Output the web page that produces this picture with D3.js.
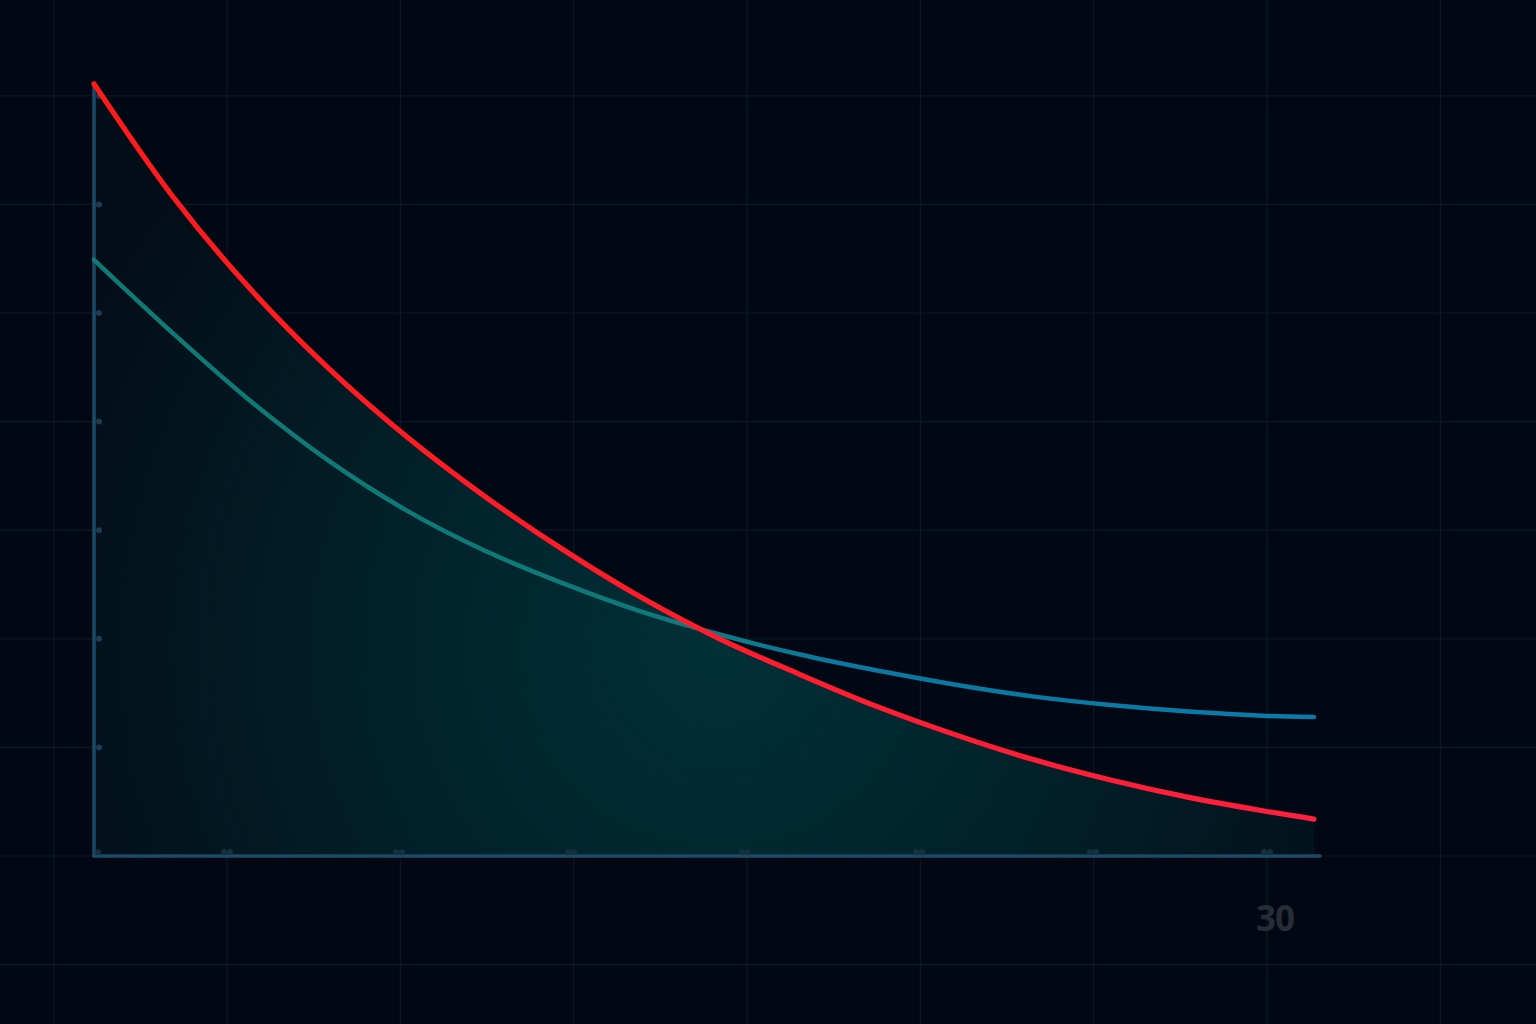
<!DOCTYPE html>
<html>
<head>
<meta charset="utf-8">
<script src="https://cdn.jsdelivr.net/npm/d3@7"></script>
<style>
  html, body { margin: 0; padding: 0; background: #020813; overflow: hidden; }
  svg { display: block; }
</style>
</head>
<body>
<div id="chart"></div>
<script>
// months along x
var months = [0, 2, 4, 6, 8, 10, 12, 14, 16, 18, 20, 22, 24, 26, 28, 30, 31.2];
var redValues = [7.11, 6.08, 5.22, 4.49, 3.86, 3.31, 2.82, 2.38, 2.00, 1.68, 1.38, 1.12, 0.89, 0.70, 0.54, 0.41, 0.34];
var tealValues = [5.49, 4.82, 4.19, 3.64, 3.18, 2.81, 2.51, 2.25, 2.04, 1.86, 1.71, 1.58, 1.47, 1.39, 1.33, 1.29, 1.28];

var yTicks = [1, 2, 3, 4, 5, 6, 7];
var xTicks = [0, 3.4, 7.8, 12.2, 16.65, 21.1, 25.55, 30];
var xLabelTick = 30;
var xLabel = '30';

var width = 1536;
var height = 1024;

var x = d3.scaleLinear().domain([0, 30]).range([94, 1267]);
var y = d3.scaleLinear().domain([0, 7]).range([856, 95.8]);

var svg = d3.select('#chart').append('svg')
    .attr('width', width)
    .attr('height', height);

var defs = svg.append('defs');

// glow under the red curve
var glow = defs.append('radialGradient')
    .attr('id', 'glow')
    .attr('gradientUnits', 'userSpaceOnUse')
    .attr('cx', x(16)).attr('cy', y(1.9))
    .attr('r', 720);
glow.append('stop').attr('offset', '0%').attr('stop-color', '#013037');
glow.append('stop').attr('offset', '45%').attr('stop-color', '#02222b');
glow.append('stop').attr('offset', '100%').attr('stop-color', '#030d17');

// teal line turns blue on the right
var tealGrad = defs.append('linearGradient')
    .attr('id', 'tealGrad')
    .attr('gradientUnits', 'userSpaceOnUse')
    .attr('x1', x(0)).attr('x2', x(31.2))
    .attr('y1', 0).attr('y2', 0);
tealGrad.append('stop').attr('offset', '0%').attr('stop-color', '#0e7a74');
tealGrad.append('stop').attr('offset', '45%').attr('stop-color', '#0e7a7a');
tealGrad.append('stop').attr('offset', '62%').attr('stop-color', '#0a78a0');
tealGrad.append('stop').attr('offset', '100%').attr('stop-color', '#0a7aa8');

var redGrad = defs.append('linearGradient')
    .attr('id', 'redGrad')
    .attr('gradientUnits', 'userSpaceOnUse')
    .attr('x1', x(0)).attr('x2', x(31.2))
    .attr('y1', 0).attr('y2', 0);
redGrad.append('stop').attr('offset', '0%').attr('stop-color', '#ff1a1a');
redGrad.append('stop').attr('offset', '100%').attr('stop-color', '#ff1f3f');

// background grid over the whole page
var gridStep = 4.433;
var gridX = d3.range(30 - gridStep * 8, 30 + gridStep * 2, gridStep);
var gridY = d3.range(-1, 9);

svg.append('g').selectAll('line.gx')
    .data(gridX)
    .enter().append('line')
    .attr('x1', function (d) { return x(d); })
    .attr('x2', function (d) { return x(d); })
    .attr('y1', 0).attr('y2', height)
    .attr('stroke', '#0b1827')
    .attr('stroke-width', 1.2);

svg.append('g').selectAll('line.gy')
    .data(gridY)
    .enter().append('line')
    .attr('x1', 0).attr('x2', width)
    .attr('y1', function (d) { return y(d); })
    .attr('y2', function (d) { return y(d); })
    .attr('stroke', '#0b1827')
    .attr('stroke-width', 1.2);

var rows = months.map(function (m, i) {
    return { m: m, red: redValues[i], teal: tealValues[i] };
});

var curve = d3.curveCatmullRom.alpha(0.5);

var area = d3.area()
    .x(function (d) { return x(d.m); })
    .y0(y(0))
    .y1(function (d) { return y(d.red); })
    .curve(curve);

svg.append('path')
    .attr('d', area(rows))
    .attr('fill', 'url(#glow)');

// axes
svg.append('line')
    .attr('x1', x(0)).attr('x2', 1320)
    .attr('y1', y(0)).attr('y2', y(0))
    .attr('stroke', '#1d4a66')
    .attr('stroke-width', 3.5)
    .attr('stroke-linecap', 'round');

svg.append('line')
    .attr('x1', x(0)).attr('x2', x(0))
    .attr('y1', y(0)).attr('y2', 84)
    .attr('stroke', '#1d4a66')
    .attr('stroke-width', 3.5)
    .attr('stroke-linecap', 'round');

svg.append('g').selectAll('circle')
    .data(yTicks)
    .enter().append('circle')
    .attr('cx', x(0) + 5)
    .attr('cy', function (d) { return y(d); })
    .attr('r', 3)
    .attr('fill', '#1b3d55');

// small double dots sitting on the x axis
var xt = svg.append('g').selectAll('g')
    .data(xTicks)
    .enter().append('g')
    .attr('transform', function (d) { return 'translate(' + x(d) + ',' + (y(0) - 4) + ')'; });
xt.append('circle')
    .attr('cx', function (d, i) { return i === 0 ? 4 : -3; })
    .attr('cy', 0)
    .attr('r', 3)
    .attr('fill', '#16303f');
xt.filter(function (d, i) { return i > 0; }).append('circle')
    .attr('cx', 3)
    .attr('cy', 0)
    .attr('r', 3)
    .attr('fill', '#16303f');

// lines
var line = d3.line()
    .x(function (d) { return x(d.m); })
    .curve(curve);

svg.append('path')
    .attr('d', line.y(function (d) { return y(d.teal); })(rows))
    .attr('fill', 'none')
    .attr('stroke', 'url(#tealGrad)')
    .attr('stroke-width', 4.5)
    .attr('stroke-linecap', 'round');

svg.append('path')
    .attr('d', line.y(function (d) { return y(d.red); })(rows))
    .attr('fill', 'none')
    .attr('stroke', 'url(#redGrad)')
    .attr('stroke-width', 5.2)
    .attr('stroke-linecap', 'round');

svg.append('text')
    .attr('x', x(xLabelTick) + 8)
    .attr('y', 931)
    .attr('text-anchor', 'middle')
    .attr('font-family', 'Open Sans, Noto Sans, sans-serif')
    .attr('font-weight', 700)
    .attr('font-size', 35)
    .attr('letter-spacing', -1)
    .attr('fill', '#272c37')
    .text(xLabel);
</script>
</body>
</html>
